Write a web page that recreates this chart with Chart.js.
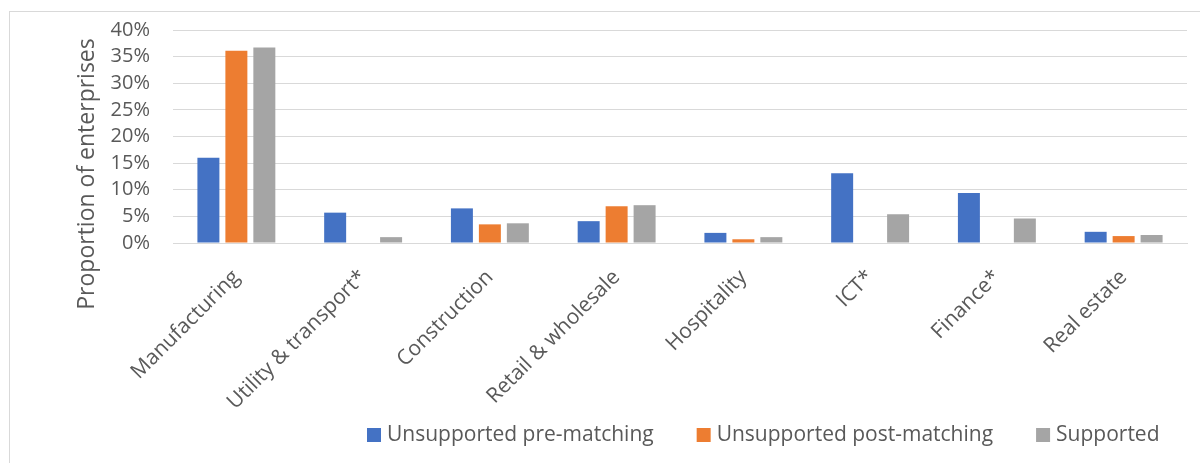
<!DOCTYPE html>
<html>
<head>
<meta charset="utf-8">
<script src="https://cdn.jsdelivr.net/npm/chart.js@4.4.1/dist/chart.umd.min.js"></script>
<style>
  html, body { margin: 0; padding: 0; background: #fff; overflow: hidden; }
  #wrap { position: relative; width: 1200px; height: 463px; overflow: hidden; }
  #frame { position: absolute; left: 9px; top: 11px; width: 1300px; height: 600px; border: 1px solid #d9d9d9; box-sizing: border-box; }
  #chart { position: absolute; left: 0; top: 0; }
</style>
</head>
<body>
<div id="wrap">
  <div id="frame"></div>
  <canvas id="chart" width="1200" height="463"></canvas>
</div>
<script>
// Sector shares (%) for each group
var sectors = ['Manufacturing', 'Utility & transport*', 'Construction', 'Retail & wholesale',
               'Hospitality', 'ICT*', 'Finance*', 'Real estate'];
var preMatching  = [16.0, 5.7, 6.5, 4.1, 1.9, 13.1, 9.4, 2.1];
var postMatching = [36.1, 0, 3.5, 6.9, 0.7, 0, 0, 1.3];
var supported    = [36.7, 1.1, 3.7, 7.1, 1.1, 5.4, 4.6, 1.5];
var seriesNames  = ['Unsupported pre-matching', 'Unsupported post-matching', 'Supported'];
var yTicks = [0, 5, 10, 15, 20, 25, 30, 35, 40];

var textColor = '#595959';
var fontFamily = '"Open Sans", "Noto Sans", sans-serif';

// Axis title, placed the way the office chart puts it
var yTitlePlugin = {
    id: 'yTitle',
    afterDraw: function(chart) {
        var ctx = chart.ctx;
        ctx.save();
        ctx.translate(87, 174);
        ctx.rotate(-Math.PI / 2);
        ctx.fillStyle = textColor;
        ctx.font = '23px ' + fontFamily;
        ctx.textAlign = 'center';
        ctx.textBaseline = 'middle';
        ctx.fillText('Proportion of enterprises', 0, 0);
        ctx.restore();
    }
};

// Legend row along the bottom
var legendRowPlugin = {
    id: 'legendRow',
    afterDraw: function(chart) {
        var ctx = chart.ctx;
        var x = 367, y = 435, box = 14;
        ctx.save();
        ctx.font = '21px ' + fontFamily;
        ctx.textBaseline = 'middle';
        chart.data.datasets.forEach(function(ds) {
            ctx.fillStyle = ds.backgroundColor;
            ctx.fillRect(x, y - box / 2, box, box);
            x += box + 6;
            ctx.fillStyle = textColor;
            ctx.fillText(ds.label, x, y);
            x += ctx.measureText(ds.label).width + 43;
        });
        ctx.restore();
    }
};

new Chart(document.getElementById('chart'), {
    type: 'bar',
    data: {
        labels: sectors,
        datasets: [
            { label: seriesNames[0], data: preMatching,  backgroundColor: '#4472C4' },
            { label: seriesNames[1], data: postMatching, backgroundColor: '#ED7D31' },
            { label: seriesNames[2], data: supported,    backgroundColor: '#A5A5A5' }
        ]
    },
    options: {
        responsive: false,
        animation: false,
        layout: { padding: { top: 30, right: 13, left: 0, bottom: 0 } },
        datasets: { bar: { categoryPercentage: 0.662, barPercentage: 0.786 } },
        plugins: {
            legend: { display: false },
            tooltip: { enabled: false }
        },
        scales: {
            x: {
                grid: { display: false },
                border: { color: '#d9d9d9', width: 1 },
                ticks: {
                    color: textColor,
                    font: { family: fontFamily, size: 21 },
                    minRotation: 45,
                    maxRotation: 45,
                    autoSkip: false,
                    padding: 14
                },
                afterFit: function(scale) {
                    scale.height = 220;
                    scale.paddingLeft = 0;
                    scale.paddingRight = 0;
                }
            },
            y: {
                min: 0,
                max: 40,
                afterBuildTicks: function(scale) {
                    scale.ticks = yTicks.map(function(v) { return { value: v }; });
                },
                grid: { color: '#d9d9d9', lineWidth: 1, drawTicks: false },
                border: { display: false },
                ticks: {
                    color: textColor,
                    font: { family: fontFamily, size: 20 },
                    padding: 23,
                    autoSkip: false,
                    callback: function(v) { return v + '%'; }
                },
                afterFit: function(scale) {
                    scale.width = 173;
                    scale.paddingTop = 0;
                    scale.paddingBottom = 0;
                }
            }
        }
    },
    plugins: [yTitlePlugin, legendRowPlugin]
});
</script>
</body>
</html>
